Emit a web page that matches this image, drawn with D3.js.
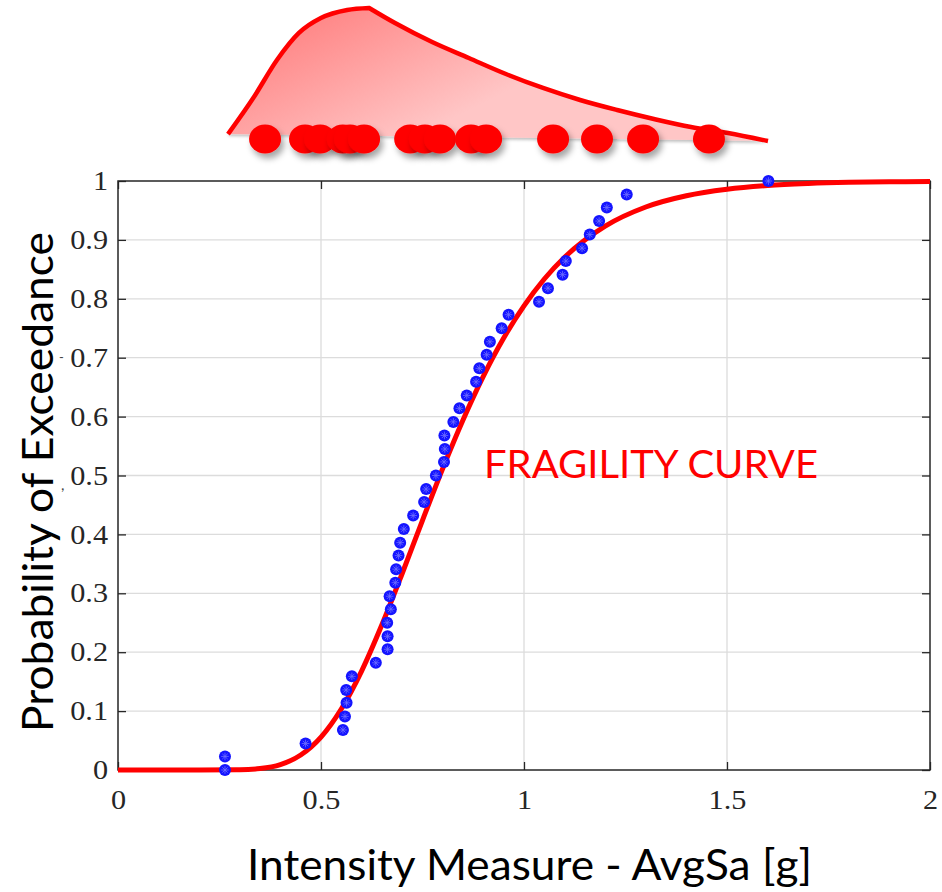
<!DOCTYPE html>
<html>
<head>
<meta charset="utf-8">
<script src="https://cdn.jsdelivr.net/npm/d3@7/dist/d3.min.js"></script>
<style>
  html, body { margin: 0; padding: 0; background: #ffffff; }
  svg { display: block; }
</style>
</head>
<body>
<svg id="chart" width="942" height="892"></svg>
<script>
// ---------------- DATA ----------------
// Empirical points (Intensity Measure, Probability of Exceedance)
const imValues = [0.2635, 0.2635, 0.462, 0.554, 0.559, 0.563, 0.562, 0.576, 0.635, 0.664,
  0.664, 0.663, 0.672, 0.669, 0.683, 0.685, 0.691, 0.695, 0.704, 0.727,
  0.754, 0.759, 0.783, 0.803, 0.805, 0.804, 0.826, 0.841, 0.859, 0.882,
  0.890, 0.908, 0.916, 0.945, 0.962, 1.037, 1.059, 1.095, 1.103, 1.143,
  1.162, 1.185, 1.204, 1.253, 1.602];
const probValues = [0, 0.023, 0.045, 0.068, 0.091, 0.114, 0.136, 0.159, 0.182, 0.205,
  0.227, 0.25, 0.273, 0.295, 0.318, 0.341, 0.364, 0.386, 0.409, 0.432,
  0.455, 0.477, 0.5, 0.523, 0.545, 0.568, 0.591, 0.614, 0.636, 0.659,
  0.682, 0.705, 0.727, 0.75, 0.773, 0.795, 0.818, 0.841, 0.864, 0.886,
  0.909, 0.932, 0.955, 0.977, 1.0];

// Fragility curve
const curveIM = [0, 0.2, 0.3, 0.35, 0.4, 0.45, 0.5, 0.55, 0.6, 0.65, 0.7, 0.75, 0.8, 0.85, 0.9,
  0.95, 1.0, 1.05, 1.1, 1.2, 1.3, 1.4, 1.5, 1.6, 1.7, 1.8, 1.9, 2.0];
const curveProb = [0, 0, 0.0004, 0.0024, 0.0092, 0.0254, 0.0559, 0.1036, 0.168, 0.2465, 0.3336,
  0.4239, 0.5122, 0.5947, 0.6688, 0.7334, 0.7881, 0.8336, 0.8705, 0.9234, 0.9559, 0.975,
  0.986, 0.9923, 0.9957, 0.9977, 0.9987, 0.999];

// Top illustration: density shape and sample dots
const pdfIM = [0.2, 0.272, 0.336, 0.397, 0.458, 0.531, 0.592, 0.664, 0.767, 0.869, 0.972,
  1.075, 1.178, 1.281, 1.383, 1.486, 1.589, 1.7];
const pdfDensity = [0.045, 0.326, 0.606, 0.811, 0.924, 0.985, 1.0, 0.886, 0.742, 0.621, 0.5,
  0.394, 0.303, 0.227, 0.159, 0.098, 0.053, -0.008];
const peakIndex = 6;
const sampleIM = [0.303, 0.414, 0.456, 0.519, 0.539, 0.578, 0.706, 0.747, 0.789, 0.875,
  0.917, 1.103, 1.225, 1.353, 1.536];
const sampleLevel = 0.008;

const xTicks = [0, 0.5, 1, 1.5, 2];
const xTickLabels = ["0", "0.5", "1", "1.5", "2"];
const yTicks = [0, 0.1, 0.2, 0.3, 0.4, 0.5, 0.6, 0.7, 0.8, 0.9, 1];
const yTickLabels = ["0", "0.1", "0.2", "0.3", "0.4", "0.5", "0.6", "0.7", "0.8", "0.9", "1"];

const xLabel = "Intensity Measure - AvgSa [g]";
const yLabel = "Probability of Exceedance";
const curveLabel = "FRAGILITY CURVE";

// ---------------- LAYOUT ----------------
const svg = d3.select("#chart");
const L = 118, R = 930, T = 181, B = 770;
const x = d3.scaleLinear().domain([0, 2]).range([L, R]);
const y = d3.scaleLinear().domain([0, 1]).range([B, T]);

const defs = svg.append("defs");
const grad = defs.append("linearGradient").attr("id", "pdfGrad")
  .attr("gradientUnits", "userSpaceOnUse")
  .attr("x1", 330).attr("y1", 5).attr("x2", 400).attr("y2", 145);
grad.append("stop").attr("offset", "0%").attr("stop-color", "#ff8585");
grad.append("stop").attr("offset", "100%").attr("stop-color", "#ffc6c6");

const sh = defs.append("filter").attr("id", "shadow")
  .attr("x", "-50%").attr("y", "-50%").attr("width", "200%").attr("height", "220%");
sh.append("feDropShadow").attr("dx", 3).attr("dy", 5).attr("stdDeviation", 3)
  .attr("flood-color", "#000").attr("flood-opacity", 0.35);
const sh2 = defs.append("filter").attr("id", "shadowSoft")
  .attr("x", "-10%").attr("y", "-10%").attr("width", "120%").attr("height", "130%");
sh2.append("feDropShadow").attr("dx", 0).attr("dy", 2).attr("stdDeviation", 1.5)
  .attr("flood-color", "#000").attr("flood-opacity", 0.25);

// ---------------- TOP ILLUSTRATION ----------------
const tx = d3.scaleLinear().domain([0.2, 1.7]).range([228, 768]);
const ty = d3.scaleLinear().domain([0, 1]).range([140, 8]);
const pdfPts = pdfIM.map((v, i) => [v, pdfDensity[i]]);
const leftPts = pdfPts.slice(0, peakIndex + 1);
const rightPts = pdfPts.slice(peakIndex);
const pdfLine = d3.line().x(d => tx(d[0])).y(d => ty(d[1])).curve(d3.curveMonotoneX);
const leftPath = pdfLine(leftPts);
const rightPath = pdfLine(rightPts).replace(/^M/, "L");
const fullPath = leftPath + rightPath;

svg.append("path").attr("d", fullPath + "Z")
  .attr("fill", "url(#pdfGrad)").attr("stroke", "none").attr("filter", "url(#shadowSoft)");
svg.append("path").attr("d", fullPath)
  .attr("fill", "none").attr("stroke", "#ff0000").attr("stroke-width", 4.5)
  .attr("stroke-linejoin", "miter");

svg.append("g").selectAll("ellipse").data(sampleIM).join("ellipse")
  .attr("cx", d => tx(d)).attr("cy", ty(sampleLevel))
  .attr("rx", 16).attr("ry", 14.5)
  .attr("fill", "#ff0000")
  .attr("filter", "url(#shadow)");

// ---------------- GRID ----------------
const grid = svg.append("g");
grid.selectAll("line.gy").data(yTicks.slice(1, -1)).join("line")
  .attr("x1", L).attr("x2", R).attr("y1", d => y(d)).attr("y2", d => y(d))
  .attr("stroke", "#dcdcdc").attr("stroke-width", 1.3);
grid.selectAll("line.gx").data(xTicks.slice(1, -1)).join("line")
  .attr("x1", d => x(d)).attr("x2", d => x(d)).attr("y1", T).attr("y2", B)
  .attr("stroke", "#dcdcdc").attr("stroke-width", 1.3);

// ---------------- AXES ----------------
const axisColor = "#262626";
const tickFont = "'Liberation Serif', 'Times New Roman', serif";
const tickSize = 27;
function styleAxis(g) {
  g.select(".domain").remove();
  g.selectAll(".tick line").attr("stroke", axisColor).attr("stroke-width", 1.3);
  g.selectAll(".tick text").attr("fill", "#262626")
    .style("font-family", tickFont).style("font-size", tickSize + "px");
}
function stretch(g) {
  g.selectAll(".tick text").each(function() {
    const s = d3.select(this).text();
    const em = s.replace(/\./g, "").length * 0.5 + (s.split(".").length - 1) * 0.25;
    d3.select(this).attr("textLength", em * tickSize * 1.12).attr("lengthAdjust", "spacingAndGlyphs");
  });
}

const gB = svg.append("g").attr("transform", `translate(0,${B})`)
  .call(d3.axisBottom(x).tickValues(xTicks).tickFormat((d, i) => xTickLabels[i])
    .tickSize(-8).tickSizeOuter(0).tickPadding(20));
styleAxis(gB); stretch(gB);

const gL = svg.append("g").attr("transform", `translate(${L},0)`)
  .call(d3.axisLeft(y).tickValues(yTicks).tickFormat((d, i) => yTickLabels[i])
    .tickSize(-8).tickSizeOuter(0).tickPadding(10));
styleAxis(gL); stretch(gL);

const gT = svg.append("g").attr("transform", `translate(0,${T})`)
  .call(d3.axisTop(x).tickValues(xTicks).tickFormat("").tickSize(-8).tickSizeOuter(0));
styleAxis(gT);
const gR = svg.append("g").attr("transform", `translate(${R},0)`)
  .call(d3.axisRight(y).tickValues(yTicks).tickFormat("").tickSize(-8).tickSizeOuter(0));
styleAxis(gR);

svg.append("rect").attr("x", L).attr("y", T).attr("width", R - L).attr("height", B - T)
  .attr("fill", "none").attr("stroke", axisColor).attr("stroke-width", 1.5);

// ---------------- FRAGILITY CURVE ----------------
const curvePts = curveIM.map((v, i) => [v, curveProb[i]]);
svg.append("path")
  .attr("d", d3.line().x(d => x(d[0])).y(d => y(d[1])).curve(d3.curveMonotoneX)(curvePts))
  .attr("fill", "none").attr("stroke", "#ff0000").attr("stroke-width", 5)
  .attr("stroke-linecap", "butt");

// ---------------- POINTS ----------------
const pts = imValues.map((v, i) => [v, probValues[i]]);
const pg = svg.append("g").selectAll("g").data(pts).join("g")
  .attr("transform", d => `translate(${x(d[0])},${y(d[1])})`);
pg.append("circle").attr("r", 6).attr("fill", "#1414ff");
[0, 45, 90, 135].forEach(a => {
  pg.append("line")
    .attr("x1", -3.8).attr("x2", 3.8).attr("y1", 0).attr("y2", 0)
    .attr("transform", `rotate(${a})`)
    .attr("stroke", "#6f6fff").attr("stroke-width", 0.8);
});

// ---------------- TEXT ----------------
const sansFont = "Lato, 'Open Sans', sans-serif";
svg.append("text").text(curveLabel)
  .attr("x", 484).attr("y", 478)
  .attr("fill", "#ff0000").style("font-family", sansFont).style("font-size", "39px")
  .attr("textLength", 334).attr("lengthAdjust", "spacingAndGlyphs");

svg.append("text").text(xLabel)
  .attr("x", 247).attr("y", 880)
  .attr("fill", "#000").style("font-family", sansFont).style("font-size", "43px")
  .attr("textLength", 565).attr("lengthAdjust", "spacingAndGlyphs");

svg.append("text").text(yLabel)
  .attr("transform", "translate(53,732) rotate(-90)")
  .attr("fill", "#000").style("font-family", sansFont).style("font-size", "42px")
  .attr("textLength", 500).attr("lengthAdjust", "spacingAndGlyphs");

// small stray marks from the original image
svg.append("text").text("-").attr("x", 59).attr("y", 362)
  .attr("fill", "#444").style("font-family", sansFont).style("font-size", "13px");
svg.append("text").text(",").attr("x", 61).attr("y", 490)
  .attr("fill", "#444").style("font-family", sansFont).style("font-size", "15px");
</script>
</body>
</html>
